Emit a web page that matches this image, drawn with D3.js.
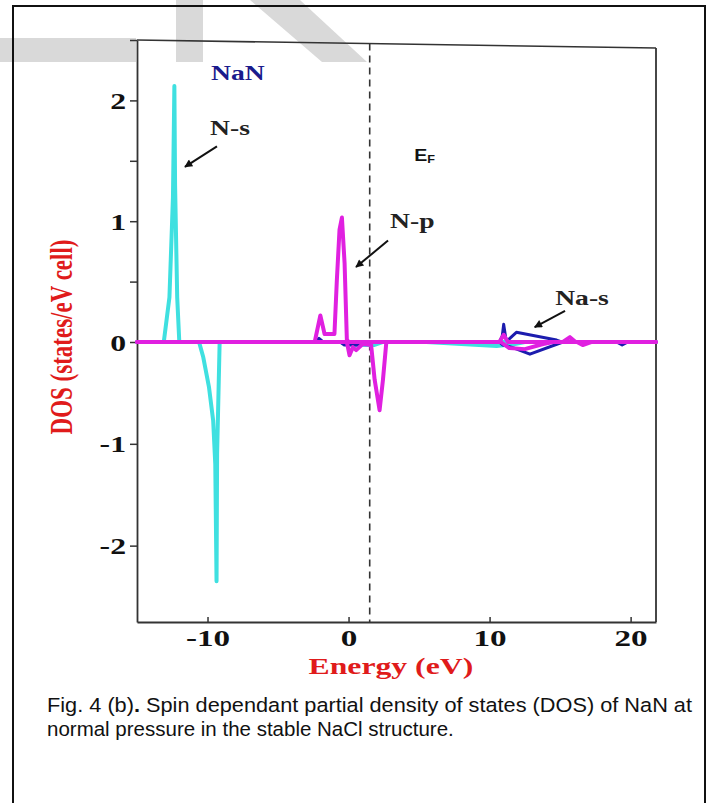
<!DOCTYPE html>
<html><head><meta charset="utf-8">
<script src="https://cdn.jsdelivr.net/npm/d3@7"></script>
<style>body{margin:0;background:#fff}</style>
</head><body>
<svg id="chart" width="717" height="803"></svg>
<script>
// ---------- data ----------
const xTicks = [-10, 0, 10, 20];
const yTicksMajor = [-2, -1, 0, 1, 2];
const yTicksMinor = [0.5, 1.5, 2.5];
const fermiLevel = 1.5;

// N-s (cyan)
const nsUp = [[-15,0],[-13.1,0],[-12.7,0.37],[-12.45,1.2],[-12.35,2.12],[-12.3,1.3],[-12.15,0.37],[-12.0,0],[21.8,0]];
const nsDown = [[-15,0],[-10.6,0],[-10.3,-0.15],[-9.9,-0.44],[-9.6,-0.77],[-9.45,-1.2],[-9.36,-2.35],[-9.32,-1.1],[-9.14,0],
  [-0.3,0],[0.3,-0.03],[1.8,-0.03],[2.4,0],[5.5,0],[8,-0.02],[10.5,-0.04],[11.8,-0.02],[12.5,0],[21.8,0]];
// Na-s (blue)
const nasUp = [[-15,0],[-2.4,0],[-2.1,0.03],[-1.8,0],[10.7,0],[10.9,0.05],[11.0,0.146],[11.15,0.03],[11.3,0.016],[11.9,0.08],[14.75,0.016],[15.1,0],[21.8,0]];
const nasDown = [[-15,0],[-0.6,0],[-0.3,-0.03],[0.8,-0.03],[1.2,0],[10.7,0],[10.95,-0.03],[11.55,-0.05],[12.86,-0.12],[15.2,0],[19.0,0],[19.4,-0.03],[19.8,0],[21.8,0]];
// N-p (magenta)
const npUp = [[-15,0],[-2.4,0],[-2.0,0.22],[-1.7,0.066],[-1.0,0.066],[-0.83,0.51],[-0.64,0.93],[-0.47,1.03],[-0.28,0.65],[-0.12,0.02],[0,0],
  [10.7,0],[11.0,0.06],[11.3,0],[15.2,0],[15.7,0.04],[16.1,0],[21.8,0]];
const npDown = [[-15,0],[-0.12,0],[0.07,-0.13],[0.31,-0.05],[0.54,-0.08],[1.0,-0.02],[1.6,-0.03],[1.85,-0.37],[2.2,-0.67],[2.44,-0.37],[2.68,0],
  [10.8,0],[11.4,-0.06],[12.5,-0.07],[13.8,-0.02],[14.5,0],[16.2,0],[16.6,-0.03],[17.2,0],[21.8,0]];

const seriesNames = ["N-s up","N-s down","Na-s up","Na-s down","N-p up","N-p down"];
const seriesData = [nsUp, nsDown, nasUp, nasDown, npUp, npDown];
const seriesColors = ["#3fe0e0","#3fe0e0","#1c1cae","#1c1cae","#e020e0","#e020e0"];
const seriesWidths = [4, 4, 3, 3, 4, 4];

// annotations (data coords)
const labels = [
  {text:"NaN",  e:-9.75, d:2.17, color:"#1a1a8c"},
  {text:"N-s",  e:-9.82, d:1.71, color:"#222"},
  {text:"N-p",  e:2.94,  d:0.94, color:"#222"},
  {text:"Na-s", e:14.65, d:0.306, color:"#222"}
];
const arrows = [
  {e0:-9.33, d0:1.62, e1:-11.6, d1:1.45},
  {e0:2.8,   d0:0.84, e1:0.53,  d1:0.62},
  {e0:15.35, d0:0.257, e1:13.2, d1:0.124}
];

// ---------- drawing ----------
const svg = d3.select("#chart");
const serif = "'Liberation Serif','Times New Roman',serif";
const sans = "'Liberation Sans',Arial,sans-serif";
const sx = 1.38;

// watermark shapes
const wm = svg.append("g").attr("fill","#d9d9d9");
wm.append("rect").attr("x",0).attr("y",38).attr("width",136).attr("height",24);
wm.append("rect").attr("x",176).attr("y",0).attr("width",27).attr("height",62);
wm.append("path").attr("d","M250,0 L300,0 L367,62 L322,62 Z");

// outer frame
svg.append("path").attr("d","M13,803 L13,6 L705,6 L705,803")
  .attr("fill","none").attr("stroke","#111").attr("stroke-width",2);

const x = d3.scaleLinear().domain([-15, 21.8]).range([137, 656]);
const y = d3.scaleLinear().domain([-2.75, 0, 2.5]).range([622, 342, 40]);

const axisColor = "#333";
const topL = y(2.5), topR = y(2.5) + 8;
svg.append("line").attr("x1",x(-15)).attr("y1",topL).attr("x2",x(21.8)).attr("y2",topR)
  .attr("stroke",axisColor).attr("stroke-width",1.6);
svg.append("line").attr("x1",x(21.8)).attr("y1",topR).attr("x2",x(21.8)).attr("y2",y(-2.75))
  .attr("stroke",axisColor).attr("stroke-width",1.8);

// Fermi level dashed
const fx = x(fermiLevel);
const fTop = topL + (fx - x(-15)) / (x(21.8) - x(-15)) * 8;
svg.append("line").attr("x1",fx).attr("x2",fx).attr("y1",fTop).attr("y2",y(-2.75))
  .attr("stroke","#333").attr("stroke-width",1.6).attr("stroke-dasharray","7,5");

// axes
const yAxis = d3.axisLeft(y).tickValues(yTicksMajor.concat(yTicksMinor))
  .tickSize(7).tickSizeOuter(0).tickPadding(0)
  .tickFormat(d => yTicksMajor.includes(d) ? String(d) : "");
const gy = svg.append("g").attr("transform",`translate(${x(-15)},0)`).call(yAxis);
gy.select(".domain").attr("stroke",axisColor).attr("stroke-width",1.8);
gy.selectAll(".tick line").attr("stroke",axisColor).attr("stroke-width",1.5);
gy.selectAll(".tick text").attr("x",null).attr("dy","0.35em")
  .attr("transform",`translate(-11,0) scale(${sx},1)`)
  .attr("font-family",serif).attr("font-weight","bold").attr("font-size",23).attr("fill","#111");

const xAxis = d3.axisBottom(x).tickValues(xTicks).tickSize(-5).tickSizeOuter(0).tickPadding(7)
  .tickFormat(d => String(d));
const gx = svg.append("g").attr("transform",`translate(0,${y(-2.75)})`).call(xAxis);
gx.select(".domain").attr("stroke",axisColor).attr("stroke-width",1.8);
gx.selectAll(".tick line").attr("stroke",axisColor).attr("stroke-width",1.5);
gx.selectAll(".tick text").each(function(){
  const t = d3.select(this);
  const yy = +t.attr("y");
  t.attr("y",null).attr("transform",`translate(0,${yy}) scale(${sx},1)`);
}).attr("font-family",serif).attr("font-weight","bold").attr("font-size",24).attr("fill","#111");

// series
const line = d3.line().x(d => x(d[0])).y(d => y(d[1]));
const gs = svg.append("g");
seriesData.forEach((s,i) => {
  gs.append("path").datum(s).attr("d",line).attr("fill","none")
    .attr("stroke",seriesColors[i]).attr("stroke-width",seriesWidths[i])
    .attr("stroke-linejoin","round").attr("stroke-linecap","round")
    .attr("class","series").attr("data-name",seriesNames[i]);
});

// annotations
function sText(tx, ty, str, size, color, opts={}) {
  return svg.append("text")
    .attr("transform",`translate(${tx},${ty}) scale(${opts.sx || sx},1)` + (opts.rotate ? ` rotate(${opts.rotate})` : ""))
    .attr("text-anchor",opts.anchor || "start")
    .attr("font-family",opts.family || serif).attr("font-weight","bold")
    .attr("font-size",size).attr("fill",color).text(str);
}
labels.forEach(l => sText(x(l.e), y(l.d), l.text, 20, l.color));

const defs = svg.append("defs");
defs.append("marker").attr("id","ah").attr("viewBox","0 0 10 10").attr("refX",9).attr("refY",5)
  .attr("markerUnits","userSpaceOnUse").attr("markerWidth",10).attr("markerHeight",8).attr("orient","auto")
  .append("path").attr("d","M0,0 L10,5 L0,10 Z").attr("fill","#111");
arrows.forEach(a => {
  svg.append("line").attr("x1",x(a.e0)).attr("y1",y(a.d0)).attr("x2",x(a.e1)).attr("y2",y(a.d1))
    .attr("stroke","#111").attr("stroke-width",2).attr("marker-end","url(#ah)");
});

// E_F
const ef = svg.append("text").attr("transform",`translate(${x(4.65)},${y(1.5)}) scale(1.15,1)`)
  .attr("font-family",sans).attr("font-weight","bold").attr("font-size",17).attr("fill","#111");
ef.append("tspan").text("E");
ef.append("tspan").attr("font-size",11).attr("dy",2).text("F");

// axis titles
sText(x(3.0), 674, "Energy (eV)", 23, "#e01b1b", {anchor:"middle"});
sText(72, 337, "DOS (states/eV cell)", 23, "#e01b1b", {anchor:"middle", rotate:-90});

// caption
const cap = svg.append("g").attr("font-family",sans).attr("font-size",20.5).attr("fill","#111");
const c1 = cap.append("text").attr("x",47).attr("y",712).attr("textLength",645).attr("lengthAdjust","spacingAndGlyphs");
c1.append("tspan").text("Fig. 4 (b)");
c1.append("tspan").attr("font-weight","bold").text(".");
c1.append("tspan").text(" Spin dependant partial density of states (DOS) of NaN at");
cap.append("text").attr("x",47).attr("y",736).text("normal pressure in the stable NaCl structure.");
</script>
</body></html>
